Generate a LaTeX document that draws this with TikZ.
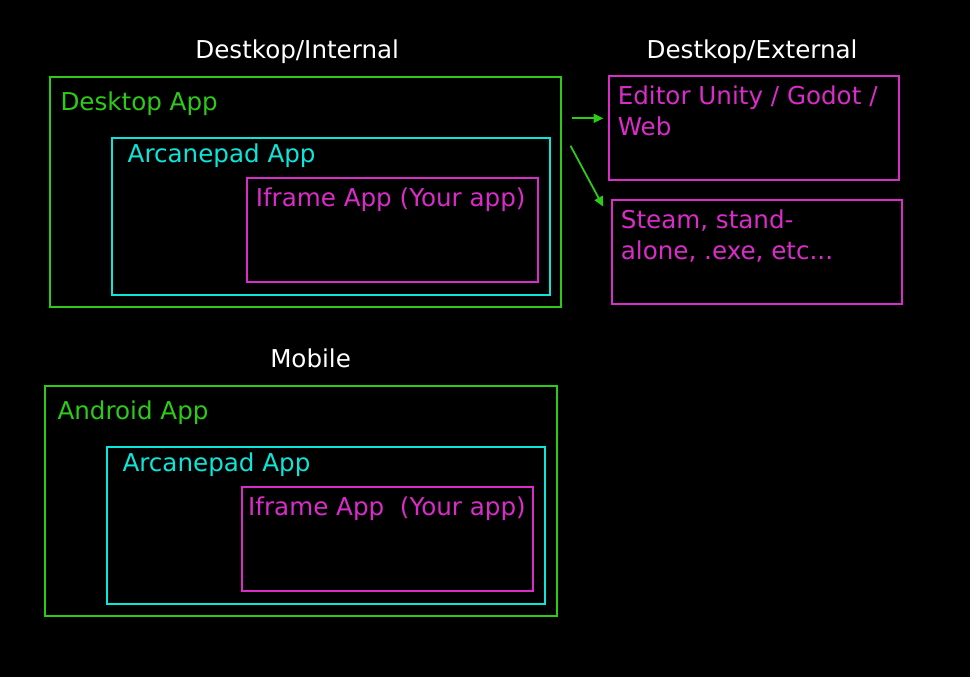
\documentclass[tikz,border=0pt]{standalone}
\usepackage{fontspec}
\setmainfont{DejaVu Sans}
\usetikzlibrary{arrows.meta}
\definecolor{appgreen}{RGB}{44,204,22}
\definecolor{appcyan}{RGB}{10,230,218}
\definecolor{appmag}{RGB}{218,44,200}
\tikzset{
  box/.style={draw, line width=2pt, anchor=north west, inner sep=0pt},
  greenbox/.style={box, draw=appgreen},
  cyanbox/.style={box, draw=appcyan},
  magbox/.style={box, draw=appmag},
  lbl/.style={anchor=base west, inner sep=0pt, font=\fontsize{24.6}{30.8}\selectfont, align=left},
  title/.style={anchor=base, inner sep=0pt, font=\fontsize{24.6}{30.8}\selectfont, text=white},
  garrow/.style={draw=appgreen, line width=1.8pt, -{Triangle[length=10pt,width=9pt]}}
}
\begin{document}
\begin{tikzpicture}[x=1pt,y=-1pt]
\fill[black] (0,0) rectangle (970,677);
\useasboundingbox (0,0) rectangle (970,677);

% titles
\node[title] (t1) at (297.2,58.3) {Destkop/Internal};
\node[title] (t2) at (752.1,58.3) {Destkop/External};
\node[title] (t3) at (310.6,367.3) {Mobile};

% desktop internal
\node[greenbox, minimum width=511pt, minimum height=230.6pt] (desk) at (48.9,75.7) {};
\node[lbl, text=appgreen] (deskl) at (60.3,110.7) {Desktop App};
\node[cyanbox, minimum width=438pt, minimum height=156.7pt] (arc1) at (110.9,137.3) {};
\node[lbl, text=appcyan] (arc1l) at (127.5,162.3) {Arcanepad App};
\node[magbox, minimum width=290.2pt, minimum height=103.4pt] (ifr1) at (246.3,177.3) {};
\node[lbl, text=appmag] (ifr1l) at (255.6,206.7) {Iframe App (Your app)};

% desktop external (base anchor = baseline of last line)
\node[magbox, minimum width=289.7pt, minimum height=103.4pt] (edit) at (608.3,75.3) {};
\node[lbl, text=appmag] (editl) at (617.6,135.7) {Editor Unity / Godot /\\Web};
\node[magbox, minimum width=290pt, minimum height=103.4pt] (steam) at (611,199.3) {};
\node[lbl, text=appmag] (steaml) at (620.7,259.3) {Steam, stand-\\alone, .exe, etc...};

% arrows
\coordinate (a1s) at (572,118.3);
\coordinate (a1e) at (603.5,118.3);
\coordinate (a2s) at (570.5,145.7);
\coordinate (a2e) at (603.3,206.7);
\draw[garrow] (a1s) -- (a1e);
\draw[garrow] (a2s) -- (a2e);

% mobile
\node[greenbox, minimum width=511.7pt, minimum height=230.6pt] (andr) at (44.1,384.7) {};
\node[lbl, text=appgreen] (andrl) at (57.3,419.3) {Android App};
\node[cyanbox, minimum width=437.9pt, minimum height=156.7pt] (arc2) at (106.1,446.3) {};
\node[lbl, text=appcyan] (arc2l) at (122.3,471.7) {Arcanepad App};
\node[magbox, minimum width=290.3pt, minimum height=103.7pt] (ifr2) at (241.4,486.3) {};
\node[lbl, text=appmag] (ifr2l) at (248,515.7) {Iframe App\ \ (Your app)};
\end{tikzpicture}
\end{document}
